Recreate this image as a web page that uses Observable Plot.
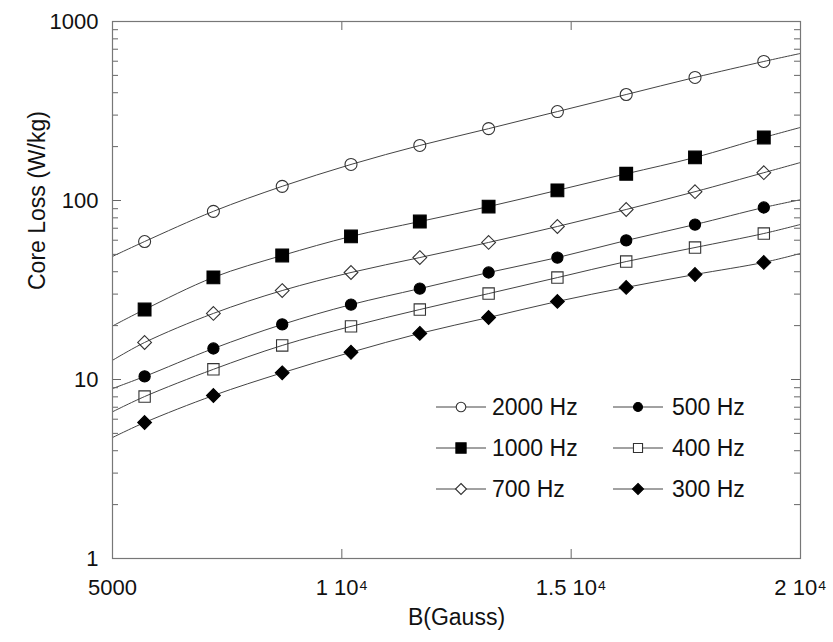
<!DOCTYPE html>
<html><head><meta charset="utf-8">
<script src="https://cdn.jsdelivr.net/npm/d3@7"></script>
<script src="https://cdn.jsdelivr.net/npm/@observablehq/plot@0.6"></script>
<style>
body{margin:0;background:#fff;font-family:"Liberation Sans",Arial,sans-serif;}
#wrap{position:relative;width:833px;height:642px;}
#legend{position:absolute;left:0;top:0;width:833px;height:642px;pointer-events:none;}
</style></head><body>
<div id="wrap"><div id="chart"></div><svg id="legend" width="833" height="642"></svg></div>
<script>
// Data
const B = [5700, 7200, 8700, 10200, 11700, 13200, 14700, 16200, 17700, 19200];
const seriesNames = ["2000 Hz", "1000 Hz", "700 Hz", "500 Hz", "400 Hz", "300 Hz"];
const loss2000 = [59, 87, 120, 159, 203, 252, 314, 391, 487, 598];
const loss1000 = [24.6, 37.2, 49.3, 63, 76.3, 92.5, 114, 141, 174, 225];
const loss700  = [16.1, 23.4, 31.4, 39.6, 48.0, 58.3, 71.6, 89.1, 112, 143];
const loss500  = [10.4, 14.9, 20.3, 26.2, 32.2, 39.6, 48.0, 59.8, 73.4, 91.4];
const loss400  = [8.03, 11.4, 15.5, 19.8, 24.6, 30.2, 37.1, 45.6, 54.6, 65.4];
const loss300  = [5.75, 8.14, 10.9, 14.2, 18.1, 22.2, 27.3, 32.7, 38.6, 45.1];
// fitted curve values at the plot edges (B = 5000 and B = 20000)
const curveStart = [48.7, 19.9, 12.8, 8.9, 6.6, 4.74];
const curveEnd   = [663, 256, 163, 101, 73.5, 50.6];
const yTicks = [1, 10, 100, 1000];
const xTicks = [5000, 10000, 15000, 20000];
const xTickLabels = ["5000", "1 10\u2074", "1.5 10\u2074", "2 10\u2074"];

const allLoss = [loss2000, loss1000, loss700, loss500, loss400, loss300];
const styles = [
  {symbol: "circle", fill: "none", stroke: "#333", r: 6},
  {symbol: "square", fill: "#000", stroke: "#000", r: 7.2},
  {symbol: "diamond2", fill: "none", stroke: "#333", r: 6.2},
  {symbol: "circle", fill: "#000", stroke: "#000", r: 5.6},
  {symbol: "square", fill: "none", stroke: "#333", r: 6.4},
  {symbol: "diamond2", fill: "#000", stroke: "#000", r: 6.2}
];

const points = [], curves = [];
seriesNames.forEach((s, i) => {
  curves.push({s, B: 5000, v: curveStart[i]});
  B.forEach((b, j) => {
    points.push({s, i, B: b, v: allLoss[i][j]});
    curves.push({s, B: b, v: allLoss[i][j]});
  });
  curves.push({s, B: 20000, v: curveEnd[i]});
});

const minor = [];
for (const d of [1, 10, 100]) for (let k = 2; k <= 9; k++) minor.push(d * k);

const W = 833, H = 642, mL = 112, mR = 33, mT = 21, mB = 84;
const pw = W - mL - mR, ph = H - mT - mB;
const font = "Liberation Sans, Arial, sans-serif";

const marks = [
  Plot.line(curves, {x: "B", y: "v", z: "s", curve: "catmull-rom", stroke: "#444", strokeWidth: 1}),
  // inward ticks
  Plot.tickY(yTicks, {y: d => d, insetRight: pw - 9, stroke: "#666"}),
  Plot.tickY(yTicks, {y: d => d, insetLeft: pw - 9, stroke: "#666"}),
  Plot.tickY(minor, {y: d => d, insetRight: pw - 6, stroke: "#666"}),
  Plot.tickY(minor, {y: d => d, insetLeft: pw - 6, stroke: "#666"}),
  Plot.tickX(xTicks, {x: d => d, insetTop: ph - 9, stroke: "#666"}),
  Plot.tickX(xTicks, {x: d => d, insetBottom: ph - 9, stroke: "#666"}),
  Plot.frame({stroke: "#777", strokeWidth: 1.2}),
  Plot.axisY({ticks: yTicks, tickSize: 0, tickPadding: 14, tickFormat: d => String(d), fontSize: 22, label: null, fill: "#111"}),
  Plot.axisX({ticks: xTicks, tickSize: 0, tickPadding: 21, tickFormat: (d, i) => xTickLabels[xTicks.indexOf(d)], fontSize: 22, label: null, fill: "#111"}),
  Plot.text(["B(Gauss)"], {text: d => d, frameAnchor: "bottom", dy: 66, fontSize: 23, fill: "#111"}),
  Plot.text(["Core Loss (W/kg)"], {text: d => d, frameAnchor: "left", dx: -75, rotate: -90, fontSize: 23, fill: "#111"})
];
styles.forEach((st, i) => {
  marks.push(Plot.dot(points.filter(p => p.i === i), {x: "B", y: "v", symbol: () => st.symbol, r: st.r, fill: st.fill, stroke: st.stroke, strokeWidth: 1.1}));
});

const chart = Plot.plot({
  width: W, height: H,
  marginLeft: mL, marginRight: mR, marginTop: mT, marginBottom: mB,
  style: {fontFamily: font, background: "#fff", color: "#111"},
  x: {domain: [5000, 20000], axis: null},
  y: {type: "log", domain: [1, 1000], axis: null},
  symbol: {type: "identity"},
  marks
});
document.getElementById("chart").appendChild(chart);

// Legend overlay
const lg = d3.select("#legend");
const cols = [{x0: 436, x1: 486, tx: 492}, {x0: 613, x1: 663, tx: 672}];
const rows = [407, 448, 489];
const order = [[0, 3], [1, 4], [2, 5]];
const symMap = {circle: d3.symbolCircle, square: d3.symbolSquare, diamond2: d3.symbolDiamond2};
order.forEach((pair, r) => pair.forEach((si, c) => {
  const col = cols[c], y = rows[r], st = styles[si];
  lg.append("line").attr("x1", col.x0).attr("x2", col.x1).attr("y1", y).attr("y2", y).attr("stroke", "#444").attr("stroke-width", 1);
  const rr = st.r * 0.8;
  lg.append("path").attr("d", d3.symbol(symMap[st.symbol], Math.PI * rr * rr)())
    .attr("transform", `translate(${(col.x0 + col.x1) / 2},${y})`)
    .attr("fill", st.fill === "none" ? "#fff" : st.fill).attr("stroke", st.stroke).attr("stroke-width", 1.1);
  lg.append("text").attr("x", col.tx).attr("y", y).attr("dy", "0.36em").attr("font-size", 23)
    .attr("font-family", font).attr("fill", "#111").text(seriesNames[si]);
}));
</script>
</body></html>
